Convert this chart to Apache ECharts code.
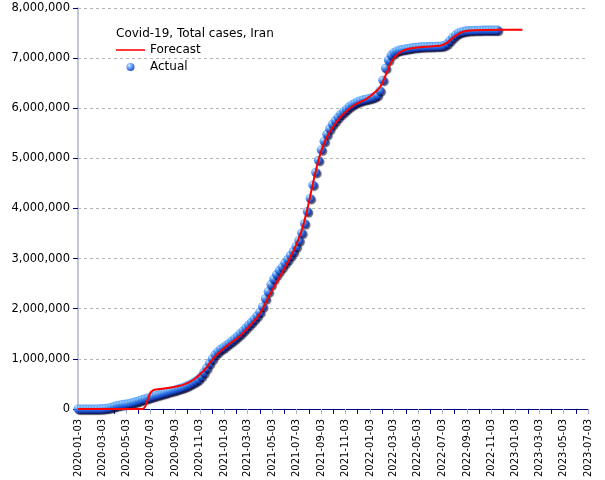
<!DOCTYPE html>
<html><head><meta charset="utf-8">
<script src="https://cdn.jsdelivr.net/npm/echarts@6/dist/echarts.min.js"></script>
<style>html,body{margin:0;padding:0;background:#fff}#c{width:605px;height:480px}</style>
</head><body><div id="c"></div>
<script>
const chartTitle = 'Covid-19, Total cases, Iran';
const seriesNames = ['Forecast', 'Actual'];
const xStart = '2020-01-03';
const xEnd = '2023-07-03';
const xLabelDates = ['2020-01-03','2020-03-03','2020-05-03','2020-07-03','2020-09-03','2020-11-03',
  '2021-01-03','2021-03-03','2021-05-03','2021-07-03','2021-09-03','2021-11-03',
  '2022-01-03','2022-03-03','2022-05-03','2022-07-03','2022-09-03','2022-11-03',
  '2023-01-03','2023-03-03','2023-05-03','2023-07-03'];
const xMinorTickDates = ['2020-02-03','2020-04-03','2020-06-03','2020-08-03','2020-10-03','2020-12-03',
  '2021-02-03','2021-04-03','2021-06-03','2021-08-03','2021-10-03','2021-12-03',
  '2022-02-03','2022-04-03','2022-06-03','2022-08-03','2022-10-03','2022-12-03',
  '2023-02-03','2023-04-03','2023-06-03'];
const yMin = 0, yMax = 8000000, yStep = 1000000;

// Actual: weekly observations starting 2020-01-03
const actualStart = '2020-01-03';
const actualStepDays = 7;
const actualValues = [
  0,0,0,0,0,0,0,18,388,4747,11364,19644,32332,53183,68192,79494,88194,95646,104691,116635,
  131652,146668,167156,184955,200262,217724,235429,252720,269440,284034,301530,317483,333699,350279,365606,382772,
  399940,416198,436319,461044,488236,518000,550757,588648,647757,726585,815117,908346,997000,1083023,1140000,1190000,
  1225142,1270000,1312000,1355000,1400000,1450000,1500000,1555000,1615000,1675000,1730000,1790000,1855000,
  1930000,2040000,2200000,2340000,2480000,2590000,2680000,2760000,2830000,2910000,2980000,3060000,3140000,
  3240000,3360000,3510000,3700000,3940000,4200000,4470000,4720000,4960000,5170000,5340000,5480000,5590000,
  5680000,5750000,5820000,5880000,5930000,5980000,6030000,6070000,6100000,6130000,6150000,6170000,6180000,6195000,
  6210000,6230000,6260000,6350000,6560000,6800000,6960000,7060000,7110000,7140000,7160000,7170000,
  7180000,7190000,7200000,7210000,7215000,7220000,7225000,7228000,7230000,7232000,7234000,7236000,7238000,
  7242000,7255000,7290000,7350000,7410000,7460000,7500000,7520000,7535000,7545000,7550000,7553000,7555000,7557000,
  7558000,7559000,7560000,7560500,7561000,7561500,7562000
];

const forecastDates = ['2020-01-03','2020-06-12','2020-06-19','2020-06-26','2020-07-03','2020-07-10','2020-07-17',
  '2020-07-31','2020-08-14','2020-08-28','2020-09-11','2020-09-25','2020-10-09','2020-10-23','2020-11-06','2020-11-20',
  '2020-12-04','2020-12-18','2021-01-01','2021-01-15','2021-01-29','2021-02-12','2021-02-26','2021-03-12','2021-03-26',
  '2021-04-09','2021-04-23','2021-05-07','2021-05-21','2021-06-04','2021-06-18','2021-07-02','2021-07-16','2021-07-30',
  '2021-08-13','2021-08-27','2021-09-10','2021-09-24','2021-10-08','2021-10-22','2021-11-05','2021-11-19','2021-12-03',
  '2021-12-17','2021-12-31','2022-01-14','2022-01-28','2022-02-11','2022-02-25','2022-03-11','2022-03-25','2022-04-08',
  '2022-04-22','2022-05-20','2022-06-17','2022-07-01','2022-07-15','2022-07-29','2022-08-12','2022-08-26','2022-09-09',
  '2022-09-23','2022-10-21','2023-01-20'];
const forecastValues = [0,0,40000,200000,330000,375000,388000,
  400000,415000,432000,455000,490000,540000,610000,710000,830000,
  980000,1100000,1200000,1290000,1370000,1460000,1570000,1690000,1820000,
  1990000,2220000,2420000,2620000,2820000,3030000,3270000,3560000,3980000,
  4490000,4960000,5300000,5520000,5690000,5830000,5940000,6030000,6100000,
  6150000,6220000,6310000,6420000,6650000,6920000,7060000,7140000,7180000,
  7200000,7225000,7240000,7255000,7310000,7400000,7480000,7530000,7550000,
  7558000,7562000,7565000];

const DAY = 86400000;
const t0 = Date.UTC(2020, 0, 3);
function dayOf(s) {
  return (Date.UTC(+s.slice(0, 4), +s.slice(5, 7) - 1, +s.slice(8, 10)) - t0) / DAY;
}
function fmtDay(v) {
  const d = new Date(t0 + Math.round(v) * DAY);
  const p = n => (n < 10 ? '0' : '') + n;
  return d.getUTCFullYear() + '-' + p(d.getUTCMonth() + 1) + '-' + p(d.getUTCDate());
}
const a0 = dayOf(actualStart);
const actualData = actualValues.map((v, i) => [a0 + i * actualStepDays, v]);
const forecastData = forecastDates.map((d, i) => [dayOf(d), forecastValues[i]]);

const FONT = 'DejaVu Sans';
const ballColor = {
  type: 'radial', x: 0.35, y: 0.3, r: 0.75,
  colorStops: [
    { offset: 0, color: '#e4f6ff' },
    { offset: 0.28, color: '#5cacff' },
    { offset: 0.62, color: '#2068ee' },
    { offset: 1, color: '#0a1c98' }
  ]
};

const chart = echarts.init(document.getElementById('c'), null, { renderer: 'canvas' });
chart.setOption({
  animation: false,
  backgroundColor: '#fff',
  title: {
    text: chartTitle, left: 111, top: 23,
    textStyle: { fontFamily: FONT, fontSize: 12, fontWeight: 'normal', color: '#000' }
  },
  legend: {
    orient: 'vertical', left: 111, top: 39,
    itemWidth: 29, itemHeight: 8, itemGap: 5,
    data: [
      { name: seriesNames[0], icon: 'path://M0,0L30,0L30,1.6L0,1.6Z' },
      { name: seriesNames[1], icon: 'circle' }
    ],
    textStyle: { fontFamily: FONT, fontSize: 12, color: '#000' }
  },
  grid: { left: 78, right: 17, top: 8, bottom: 70, containLabel: false },
  xAxis: [{
    type: 'value', min: 0, max: dayOf(xEnd),
    axisLine: { show: true, lineStyle: { color: '#000080', width: 1 } },
    axisTick: { show: true, customValues: xMinorTickDates.map(dayOf), length: 5, lineStyle: { color: '#000080' } },
    axisLabel: {
      customValues: xLabelDates.map(dayOf), rotate: 90, margin: 10,
      formatter: fmtDay, fontFamily: FONT, fontSize: 10, color: '#000'
    },
    splitLine: { show: false }
  }, {
    type: 'value', min: 0, max: dayOf(xEnd), position: 'bottom',
    axisLine: { show: false },
    axisTick: { show: true, customValues: xLabelDates.map(dayOf), length: 5, lineStyle: { color: '#a8b0c8' } },
    axisLabel: { show: false },
    splitLine: { show: false }
  }],
  yAxis: {
    type: 'value', min: yMin, max: yMax, interval: yStep,
    axisLine: { show: true, lineStyle: { color: '#c2c6d8', width: 2 } },
    axisTick: { show: true, length: 5, lineStyle: { color: '#000080' } },
    axisLabel: {
      fontFamily: FONT, fontSize: 11.5, color: '#000', margin: 8,
      formatter: v => v.toLocaleString('en-US')
    },
    splitLine: { show: true, lineStyle: { color: '#b4b4b4', type: [3, 3], width: 1 } }
  },
  series: [{
    name: 'Actual', type: 'scatter', data: actualData, xAxisIndex: 0,
    symbol: 'circle', symbolSize: 9,
    itemStyle: { color: ballColor, shadowColor: 'rgba(0,0,40,0.8)', shadowBlur: 1, shadowOffsetX: 1.5, shadowOffsetY: 1.5 },
    z: 2
  }, {
    name: 'Forecast', type: 'line', data: forecastData, xAxisIndex: 0,
    showSymbol: false, symbol: 'none', smooth: 0.3,
    lineStyle: { color: '#ff0000', width: 2 }, itemStyle: { color: '#ff0000' },
    z: 3
  }]
});
</script>
</body></html>
